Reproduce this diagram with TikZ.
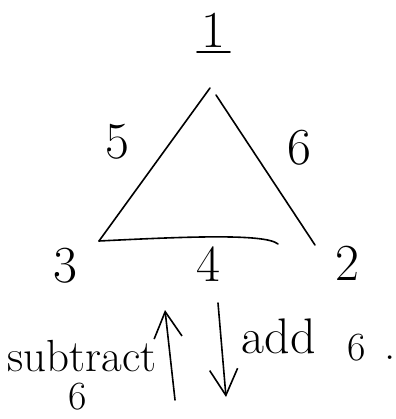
\documentclass[tikz,border=0pt]{standalone}
\usetikzlibrary{arrows.meta}
\begin{document}
\begin{tikzpicture}[x=1pt,y=-1pt,
  ink/.style={line width=1.6pt,line cap=round,line join=round},
  big/.style={font=\fontsize{52}{52}\selectfont,inner sep=0pt},
  word/.style={font=\fontsize{45}{45}\selectfont,inner sep=0pt},
  small6/.style={font=\fontsize{40}{40}\selectfont,inner sep=0pt},
  barb/.style={-{Straight Barb[length=26pt,width=28pt,line width=1.6pt]}}]
\useasboundingbox (0,0) rectangle (395,419);
% labels
\node[big] (n1) at (213,30) {1};
\coordinate (u1) at (197,52);
\coordinate (u2) at (230,52);
\draw[ink] (u1) -- (u2);
\node[big] (n5) at (117,142) {5};
\node[big] (n6) at (299,148) {6};
\node[big] (n3) at (65,266) {3};
\node[big] (n4) at (208,264) {4};
\node[big] (n2) at (347,263) {2};
% triangle
\coordinate (ta) at (210,88);
\coordinate (tb) at (216,95);
\coordinate (bl) at (99,241);
\coordinate (br) at (278,244);
\coordinate (rr) at (315,245);
\draw[ink] (ta) -- (bl);
\draw[ink] (tb) -- (rr);
\draw[ink] (bl) .. controls (180,237) and (265,233) .. (br);
% arrows
\coordinate (ua) at (175,400);
\coordinate (ub) at (165,310);
\draw[ink,barb] (ua) -- (ub);
\coordinate (da) at (218,303);
\coordinate (db) at (226,397);
\draw[ink,barb] (da) -- (db);
% words
\node[word] (sub) at (82,356) {subtract};
\node[small6] (s6) at (78,397) {6};
\node[word,font=\fontsize{50}{50}\selectfont] (add) at (279,336) {add};
\node[small6] (a6) at (357,348) {6};
\node[word] (dot) at (390,358) {.};
\end{tikzpicture}
\end{document}
